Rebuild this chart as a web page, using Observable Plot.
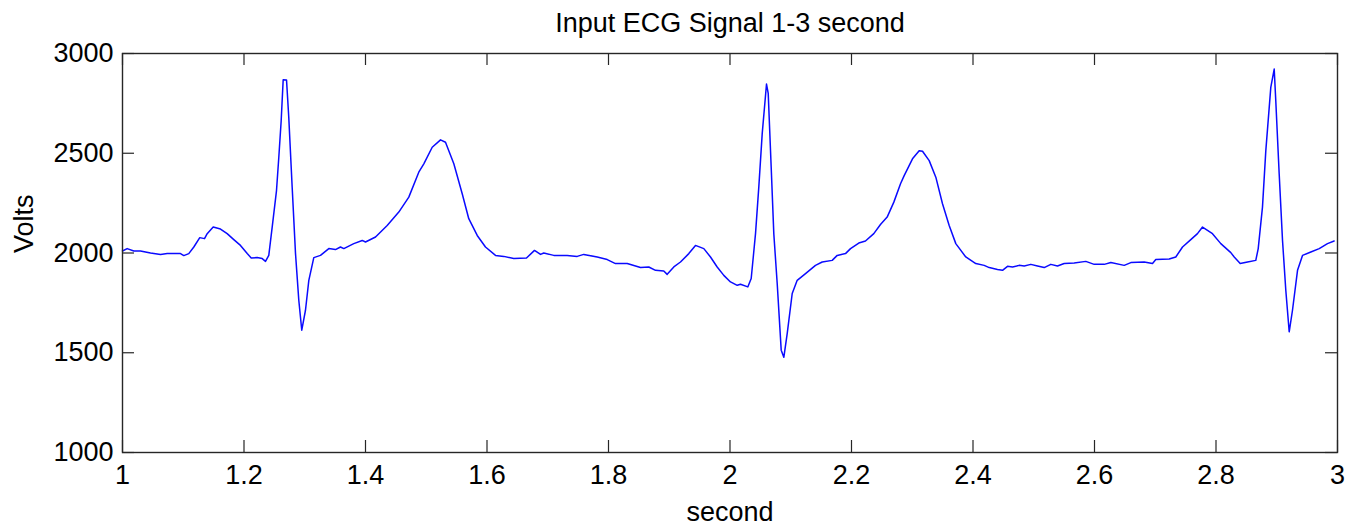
<!DOCTYPE html>
<html>
<head>
<meta charset="utf-8">
<script src="https://cdn.jsdelivr.net/npm/d3@7"></script>
<script src="https://cdn.jsdelivr.net/npm/@observablehq/plot@0.6"></script>
<style>
  html, body { margin: 0; padding: 0; background: #fff; }
  #chart svg { display: block; }
</style>
</head>
<body>
<div id="chart"></div>
<script>
const titleText = "Input ECG Signal 1-3 second";
const xLabel = "second";
const yLabel = "Volts";
const xTicks = [1, 1.2, 1.4, 1.6, 1.8, 2, 2.2, 2.4, 2.6, 2.8, 3];
const yTicks = [1000, 1500, 2000, 2500, 3000];

const timeSec = [
  1.000, 1.0077, 1.0186, 1.0296, 1.0461, 1.0626, 1.0736, 1.0955, 1.1009, 1.1091,
  1.1174, 1.1272, 1.1350, 1.1394, 1.1493, 1.1613, 1.1723, 1.1832, 1.1942, 1.2053,
  1.2119, 1.2217, 1.2300, 1.2354, 1.2408, 1.2464, 1.2535, 1.2573, 1.2612, 1.2645,
  1.2700, 1.2737, 1.2793, 1.2848, 1.2902, 1.2951, 1.3012, 1.3067, 1.3149, 1.3259,
  1.3396, 1.3506, 1.3588, 1.3643, 1.3807, 1.3946, 1.4000, 1.4165, 1.4357, 1.4548,
  1.4713, 1.4877, 1.4960, 1.5098, 1.5235, 1.5317, 1.5454, 1.5592, 1.5700, 1.5839,
  1.5975, 1.6140, 1.6277, 1.6441, 1.6650, 1.6782, 1.6881, 1.6935, 1.7100, 1.7320,
  1.7485, 1.7593, 1.7814, 1.7979, 1.8115, 1.8308, 1.8527, 1.8663, 1.8774, 1.8910,
  1.8966, 1.9075, 1.9185, 1.9322, 1.9432, 1.9569, 1.9679, 1.9789, 1.9898, 2.0008,
  2.0119, 2.0173, 2.0293, 2.0349, 2.0420, 2.0474, 2.0530, 2.0601, 2.0629, 2.0678,
  2.0721, 2.0777, 2.0843, 2.0886, 2.0942, 2.1024, 2.1106, 2.1243, 2.1407, 2.1518,
  2.1682, 2.1765, 2.1901, 2.1984, 2.2120, 2.2230, 2.2367, 2.2477, 2.2587, 2.2697,
  2.2807, 2.2867, 2.3004, 2.3114, 2.3169, 2.3279, 2.3388, 2.3498, 2.3608, 2.3717,
  2.3881, 2.4046, 2.4184, 2.4267, 2.4403, 2.4486, 2.4568, 2.4650, 2.4760, 2.4843,
  2.4952, 2.5062, 2.5172, 2.5281, 2.5391, 2.5501, 2.5666, 2.5857, 2.5995, 2.6160,
  2.6269, 2.6489, 2.6598, 2.6818, 2.6955, 2.7009, 2.7229, 2.7338, 2.7449, 2.7585,
  2.7695, 2.7778, 2.7942, 2.8079, 2.8244, 2.8300, 2.8398, 2.8519, 2.8655, 2.8695,
  2.8765, 2.8820, 2.8902, 2.8958, 2.8984, 2.9040, 2.9095, 2.9149, 2.9205, 2.9259,
  2.9342, 2.9424, 2.9561, 2.9699, 2.9835, 2.9945
];
const volts = [
  2010, 2022, 2010, 2010, 2000, 1993, 1997, 1997, 1987, 1997,
  2030, 2077, 2072, 2097, 2130, 2120, 2097, 2067, 2038, 1997,
  1975, 1977, 1972, 1958, 1988, 2130, 2313, 2480, 2663, 2868,
  2867, 2680, 2330, 1997, 1763, 1613, 1713, 1863, 1977, 1988,
  2022, 2017, 2030, 2022, 2047, 2063, 2055, 2080, 2138, 2205,
  2280, 2405, 2447, 2530, 2567, 2555, 2447, 2297, 2172, 2088,
  2030, 1988, 1983, 1972, 1975, 2013, 1993, 2000, 1988, 1988,
  1983, 1993, 1980, 1967, 1947, 1947, 1927, 1930, 1913, 1910,
  1893, 1930, 1955, 1997, 2038, 2022, 1980, 1930, 1888, 1855,
  1838, 1843, 1830, 1872, 2097, 2330, 2597, 2847, 2800, 2430,
  2097, 1847, 1513, 1477, 1597, 1797, 1863, 1897, 1938, 1955,
  1963, 1988, 1997, 2022, 2050, 2060, 2097, 2143, 2180, 2255,
  2347, 2388, 2472, 2513, 2510, 2463, 2380, 2247, 2138, 2047,
  1980, 1947, 1938, 1927, 1917, 1913, 1933, 1930, 1938, 1935,
  1943, 1935, 1927, 1943, 1935, 1947, 1950, 1958, 1943, 1943,
  1952, 1938, 1952, 1955, 1947, 1967, 1970, 1980, 2030, 2067,
  2097, 2130, 2097, 2047, 2002, 1980, 1947, 1955, 1963, 2022,
  2230, 2513, 2830, 2922, 2763, 2397, 2063, 1813, 1605, 1713,
  1913, 1988, 2005, 2022, 2047, 2060
];

const signal = timeSec.map((t, i) => ({t, v: volts[i]}));

const W = 1357, H = 526;
const mL = 122, mR = 20, mT = 53, mB = 74;
const plotW = W - mL - mR, plotH = H - mT - mB;
const tickLen = 12;
const axisColor = "#262626";
const fontFam = "'Liberation Sans', Arial, Helvetica, sans-serif";
const fs = 27;

const chart = Plot.plot({
  width: W,
  height: H,
  marginLeft: mL,
  marginRight: mR,
  marginTop: mT,
  marginBottom: mB,
  style: {fontFamily: fontFam, background: "#fff", color: "#000"},
  x: {domain: [1, 3]},
  y: {domain: [1000, 3000]},
  marks: [
    Plot.line(signal, {x: "t", y: "v", stroke: "#0a0aff", strokeWidth: 1.5, strokeLinejoin: "round"}),
    // inward ticks, all four sides
    Plot.tickX(xTicks, {x: d => d, stroke: axisColor, strokeWidth: 1.2, insetTop: plotH - tickLen}),
    Plot.tickX(xTicks, {x: d => d, stroke: axisColor, strokeWidth: 1.2, insetBottom: plotH - tickLen}),
    Plot.tickY(yTicks, {y: d => d, stroke: axisColor, strokeWidth: 1.2, insetRight: plotW - tickLen}),
    Plot.tickY(yTicks, {y: d => d, stroke: axisColor, strokeWidth: 1.2, insetLeft: plotW - tickLen}),
    Plot.frame({stroke: axisColor, strokeWidth: 1.4}),
    Plot.axisX({ticks: xTicks, tickFormat: d3.format("~g"), tickSize: 0, tickPadding: 12, fontSize: fs, label: null, fill: "#000"}),
    Plot.axisY({ticks: yTicks, tickFormat: d3.format("d"), tickSize: 0, tickPadding: 9, fontSize: fs, label: null, fill: "#000"}),
    Plot.text([titleText], {text: d => d, frameAnchor: "top", dy: -41, fontSize: fs, fill: "#000"}),
    Plot.text([xLabel], {text: d => d, frameAnchor: "bottom", dy: 68, fontSize: fs, fill: "#000"}),
    Plot.text([yLabel], {text: d => d, frameAnchor: "left", dx: -98, rotate: -90, fontSize: fs, fill: "#000"})
  ]
});
document.getElementById("chart").appendChild(chart);
</script>
</body>
</html>
